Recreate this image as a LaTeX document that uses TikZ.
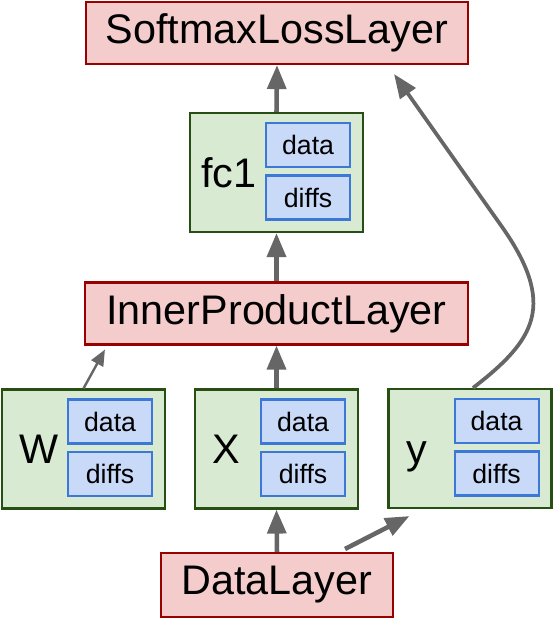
\documentclass[tikz,border=0pt]{standalone}
\usepackage{fontspec}
\setmainfont{Liberation Sans}
\usetikzlibrary{calc,arrows.meta}
\definecolor{layerfill}{HTML}{F4CCCC}
\definecolor{layerline}{HTML}{990000}
\definecolor{blobfill}{HTML}{D9EAD3}
\definecolor{blobline}{HTML}{274E13}
\definecolor{cellfill}{HTML}{C9DAF8}
\definecolor{cellline}{HTML}{3C78D8}
\definecolor{flowgray}{HTML}{666666}
\tikzset{
  layer/.style={draw=layerline, fill=layerfill, line width=1.6pt, inner sep=0pt,
    minimum height=62*0.75pt, font=\fontsize{31}{36}\selectfont},
  blob/.style={draw=blobline, fill=blobfill, line width=1.6pt, inner sep=0pt,
    minimum height=119*0.75pt},
  cell/.style={draw=cellline, fill=cellfill, line width=1.6pt, inner sep=0pt,
    minimum width=84*0.75pt, minimum height=44*0.75pt, font=\fontsize{20}{24}\selectfont},
  blobname/.style={anchor=base west, inner sep=0pt, font=\fontsize{31}{36}\selectfont},
  flow/.style={draw=flowgray, line width=3.4pt, -{Triangle[length=18pt,width=14pt]}},
  thinflow/.style={draw=flowgray, line width=1.8pt, -{Triangle[length=12pt,width=10pt]}}
}
% blob with its data and diffs cells
\def\blob[#1](#2)(#3:#4:#5){%
  \node[blob, minimum width=#5*0.75pt] (#1) at (#2) {};
  \node[cell] (#1data) at ($(#1.east)+(-56,-27.5)$) {data};
  \node[cell] (#1diffs) at ($(#1.east)+(-56,25)$) {diffs};
  \node[blobname] (#1name) at ($(#1.west)+(#4,14.5)$) {#3};
}
\begin{document}
\begin{tikzpicture}[x=0.75pt, y=-0.75pt]
			%%%%% START %%%%%
			\useasboundingbox[fill=white] (0,0) rectangle (554,618);
			
			\node[layer, minimum width=382*0.75pt] (softmax) at (277,33) {SoftmaxLossLayer};
			\node[layer, minimum width=383*0.75pt] (inner) at (276.5,313.5) {InnerProductLayer};
			\node[layer, minimum width=232*0.75pt, minimum height=64*0.75pt] (datalayer) at (277,585) {DataLayer};
			
			\blob[fc](276.5,172.5)(fc1:12:173)
			\blob[w](83.5,449)(W:18:163)
			\blob[x](276.5,449)(X:18:163)
			\blob[y](470,448.5)(y:19:163)
			
			\coordinate (wtip) at ($(inner.south west)+(21,4)$);
			\coordinate (ytip) at ($(y.south west)+(22,7)$);
			\coordinate (dstart) at ($(datalayer.north east)+(-49,-3)$);
			\coordinate (stip) at ($(softmax.south east)+(-75,9)$);
			\coordinate (bend) at (500,224);
			
			\draw[flow] (fc.north) -- (softmax.south);
			\draw[flow] (inner.north) -- (fc.south);
			\draw[flow] (x.north) -- (inner.south);
			\draw[flow] (datalayer.north) -- (x.south);
			\draw[thinflow] (w.north) -- (wtip);
			\draw[flow] (dstart) -- (ytip);
			\draw[flow, line width=2.8pt] ($(y.north)+(3,0)$) .. controls (535,340) and (558,305) .. (bend) -- (stip);
			
			%%%%% END %%%%%
\end{tikzpicture}
\end{document}
